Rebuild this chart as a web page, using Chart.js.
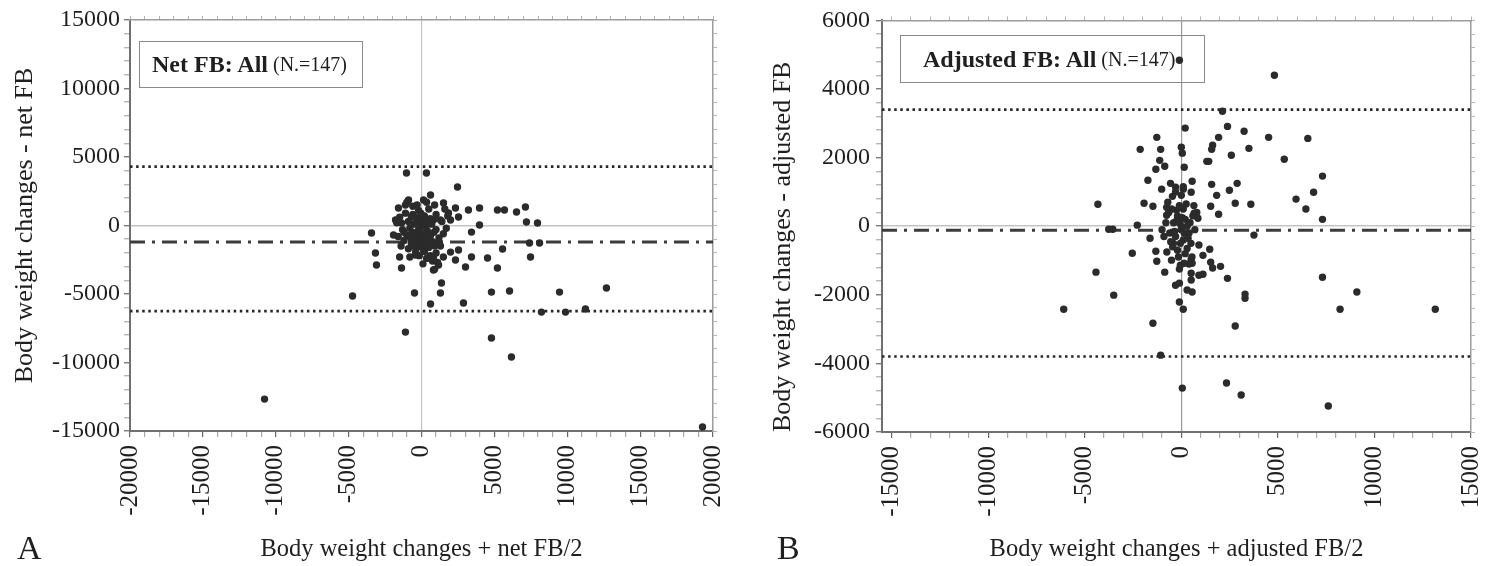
<!DOCTYPE html>
<html>
<head>
<meta charset="utf-8">
<title>Body weight changes vs FB</title>
<script src="https://cdn.jsdelivr.net/npm/chart.js@4.4.1/dist/chart.umd.min.js"></script>
<style>
  body { margin: 0; background: #fff; width: 1509px; height: 566px; position: relative; overflow: hidden;
         font-family: 'Liberation Serif', 'Times New Roman', serif; color: #1f1f1f; }
  canvas { position: absolute; top: 0; }
  #chartA { left: 0; }
  #chartB { left: 754px; }
  .key { position: absolute; box-sizing: border-box; border: 1px solid #8a8a8a; display: flex; align-items: center;
         white-space: nowrap; font-size: 20px; z-index: 2; }
  .key b { font-size: 24px; }
  .panel { position: absolute; font-size: 34px; line-height: 1; z-index: 2; }
</style>
</head>
<body>
<canvas id="chartA" width="754" height="566"></canvas>
<canvas id="chartB" width="755" height="566"></canvas>

<div class="key" style="left:139px; top:41px; width:224px; height:47px; padding-left:12px;"><b>Net FB: All</b>&nbsp;(N.=147)</div>
<div class="key" style="left:900px; top:35px; width:305px; height:48px; padding-left:22px;"><b>Adjusted FB: All</b>&nbsp;(N.=147)</div>
<div class="panel" style="left:17px; top:531px;">A</div>
<div class="panel" style="left:777px; top:531px;">B</div>

<script>
// A: net FB — mean of the two measures (x) against their difference (y)
const netX = [
  -1030, 340, 2470, 620, 140, -890, -1100, -1580, 1510, 2330,
  3220, 3980, 5210, 5690, 6520, 7130, 7200, 7960, 1850, 2540,
  1990, -1780, -1370, -690, -210, 340, 820, 3980, 3430, -3430,
  -1920, -3160, -3090, -1370, -410, 140, 820, 1170, 820, 1990,
  2540, 2330, 3020, 3430, 4530, 5210, 5560, 7410, 8100, 7480,
  1370, 1300, -480, 620, 2880, 4800, 6040, 9470, 12690, 8230,
  9880, 11250, 4800, -1100, 6170, -4730, -10770, 19280,
  -800, -600, -400, -200, 0, 200, 400, 600, 800, -1000,
  -1200, -700, -300, 100, 500, 900, 1200, -500, -100, 300,
  700, 1000, -900, -1300, -1500, -1100, -600, -200, 200, 600,
  1000, 1400, 1500, -1600, -400, 200, 600, 1000, 1300, -900,
  -1400, -50, 150, -300, 450, 850, -750, -350, 50, 350,
  750, 1100, -150, 500, -600, -1000, 900, 1600, 1700, -1700,
  -250, 250, 700, -550, 1200, -1200, -450, 400, -50, 1300,
  -800, 100, 900, 1500, -1500, -300, 350, 1800, -100
];
const netY = [
  3830, 3830, 2810, 2230, 1860, 1860, 1500, 1280, 1640, 1280,
  1130, 1280, 1130, 1130, 990, 1350, 260, 180, 910, 620,
  400, 400, 180, 620, 260, 260, 400, 40, -480, -550,
  -690, -2010, -2880, -3100, -2150, -1790, -2300, -2880, -3250, -1940,
  -1790, -2520, -3030, -2300, -2370, -3100, -1720, -1280, -1280, -2300,
  -4200, -4930, -4930, -5730, -5660, -4860, -4780, -4860, -4560, -6320,
  -6320, -6100, -8210, -7780, -9600, -5150, -12670, -14710,
  -200, -500, -900, -300, -700, -1000, -400, -800, -1200, -700,
  -1100, -1300, -1500, -1300, -1600, -1500, -900, 100, 500, -100,
  100, -300, 300, -300, 600, 900, 800, 1100, 700, 500,
  800, 300, -600, -800, -1900, -1900, -2200, -2000, -1500, -1700,
  -1500, -100, 200, 300, -1200, -500, -900, -600, -1600, -2400,
  -2600, -2700, -2200, 1200, 1400, 1700, 1500, 1200, -200, 200,
  -1100, -600, -1400, -1500, -1200, -500, 600, 300, 900, 400,
  -2300, -2800, -3200, -2300, -2300, 1500, 1700, 700, -400
];
const netLimits = [4300, -1200, -6250];   // upper LoA, mean bias, lower LoA
const netXLabels = [-20000, -15000, -10000, -5000, 0, 5000, 10000, 15000, 20000];
const netYLabels = [-15000, -10000, -5000, 0, 5000, 10000, 15000];

// B: adjusted FB
const adjX = [
  -100, 4820, 2130, 200, 2390, 3250, 4520, 6550, -1270, 1930,
  -2130, -1070, 0, 50, 1620, 1570, 3500, 2590, 5330, -1120,
  -860, -1320, 150, 1320, 1420, 7310, -1730, 560, 1570, 2890,
  -560, -1020, -300, 100, 510, 2490, 1830, -460, 6850, 5940,
  -4320, -1930, -1470, 1520, 2790, 3600, -760, -250, 6450, 1930,
  660, 860, -760, 7310, -2280, -3760, -3550, 3760, -1620, -2540,
  -1320, -1270, -4420, -860, -510, -410, -50, 150, 510, 560,
  910, 1120, 1470, 1520, 1620, 2030, 2390, 510, 910, 1120,
  510, -300, -100, 300, 560, -3500, 3300, 3300, -100, 100,
  -1470, 2790, -1070, 50, 2340, 3100, 7310, 9090, 8220, 13150,
  7610, -6090,
  -200, -400, 0, 200, -600, 100, -300, 300, -100, 400,
  -500, -800, 600, -200, 200, 0, -900, 500, -100, 100,
  -350, 350, -700, 700, -50, 50, -450, 250, -150, 450,
  -650, 0, 150, -250, 300, -550, 650, -1000, 800, -300,
  100, -750, 550, -100, 400
];
const adjY = [
  4840, 4400, 3350, 2860, 2910, 2770, 2590, 2560, 2590, 2590,
  2240, 2240, 2300, 2130, 2360, 2240, 2270, 2070, 1950, 1920,
  1750, 1660, 1720, 1890, 1890, 1460, 1340, 1310, 1220, 1250,
  1250, 1080, 1140, 1080, 990, 1050, 900, 870, 990, 790,
  640, 670, 580, 580, 670, 640, 550, 470, 500, 350,
  380, 230, 320, 200, 30, -90, -90, -260, -350, -790,
  -730, -1020, -1340, -1340, -990, -500, -1140, -1080, -960, -1080,
  -550, -850, -670, -1050, -1220, -1170, -1520, -1370, -1430, -1400,
  -1570, -1720, -1660, -1860, -1920, -2010, -1980, -2100, -2210, -2420,
  -2830, -2910, -3760, -4720, -4570, -4920, -1490, -1920, -2420, -2420,
  -5240, -2420,
  300, 100, -100, 200, -200, -400, -300, 0, 600, -200,
  500, 100, 300, -700, -800, 900, -300, -500, 100, 500,
  -150, -350, 700, -100, -500, 250, -600, 650, -900, 100,
  400, 0, -200, 150, -650, -450, 600, -100, 400, 1000,
  1150, -750, -900, -1250, -1100
];
const adjLimits = [3400, -120, -3800];
const adjXLabels = [-15000, -10000, -5000, 0, 5000, 10000, 15000];
const adjYLabels = [-6000, -4000, -2000, 0, 2000, 4000, 6000];

const ink = '#1f1f1f';
const serif = "'Liberation Serif', 'Times New Roman', serif";

function across(v, lo, hi) {
  return [{ x: lo, y: v }, { x: hi, y: v }];
}

// x ticks every 1000 from the first whole thousand inside the range
function thousands(s) {
  const ticks = [];
  for (let v = Math.ceil(s.min / 1000) * 1000; v <= s.max; v += 1000) ticks.push({ value: v });
  s.ticks = ticks;
}

function drawPanel(id, p) {
  const points = p.xs.map((x, i) => ({ x, y: p.ys[i] }));
  const xLo = p.xMin, xHi = p.xLabels[p.xLabels.length - 1];
  const yLo = p.yLabels[0], yHi = p.yLabels[p.yLabels.length - 1];

  const label = list => v => (list.includes(v) ? String(v) : '');
  const tickInk = list => c => (c.tick && list.includes(c.tick.value) ? '#666' : '#aaa');
  const zeroOnly = color => c => (c.tick && c.tick.value === 0 ? color : 'rgba(0,0,0,0)');

  const limitLine = (v, dash, width, color) => ({
    data: across(v, xLo, xHi), showLine: true, pointRadius: 0, pointHoverRadius: 0,
    borderColor: color, borderWidth: width, borderDash: dash, borderCapStyle: 'butt'
  });

  return new Chart(document.getElementById(id), {
    type: 'scatter',
    data: {
      datasets: [
        { data: points, pointRadius: 3.7, pointHoverRadius: 3.7, backgroundColor: '#2b2b2b', borderWidth: 0 },
        limitLine(p.limits[0], [2.5, 3.6], 2.6, '#262626'),
        limitLine(p.limits[1], [15, 7, 3, 7], 3, '#3c3c3c'),
        limitLine(p.limits[2], [2.5, 3.6], 2.6, '#262626')
      ]
    },
    options: {
      responsive: false,
      animation: false,
      events: [],
      layout: { padding: 0 },
      plugins: { legend: { display: false }, tooltip: { enabled: false } },
      scales: {
        x: {
          type: 'linear', position: 'bottom', min: xLo, max: xHi, bounds: 'data',
          afterBuildTicks: thousands,
          afterFit: s => { s.height = p.bottom; },
          ticks: {
            autoSkip: false, minRotation: 90, maxRotation: 90,
            padding: 8, color: ink, font: { family: serif, size: 25 }, callback: label(p.xLabels)
          },
          grid: { color: zeroOnly(p.vZero), lineWidth: 1.2, tickLength: 6, tickColor: tickInk(p.xLabels), tickWidth: 1.2 },
          border: { color: '#707070', width: 2 },
          title: { display: true, text: p.xTitle, color: ink, font: { family: serif, size: 24.5 }, padding: { top: 0, bottom: 2 } }
        },
        y: {
          type: 'linear', position: 'left', min: yLo, max: yHi,
          afterFit: s => { s.width = p.left; },
          ticks: {
            stepSize: p.yStep, autoSkip: false, padding: p.yPad, color: ink,
            font: { family: serif, size: 24 }, callback: label(p.yLabels)
          },
          grid: { color: zeroOnly('#c4c4c4'), lineWidth: 1.5, tickLength: 6, tickColor: tickInk(p.yLabels), tickWidth: 1.2 },
          border: { color: '#707070', width: 2 },
          title: { display: true, text: p.yTitle, align: p.yAlign, color: ink, font: { family: serif, size: 26 }, padding: { top: p.yTitlePad, bottom: 0 } }
        },
        x2: {
          type: 'linear', position: 'top', min: xLo, max: xHi, bounds: 'data',
          afterBuildTicks: thousands,
          afterFit: s => { s.height = p.top; },
          ticks: { display: false },
          grid: { drawOnChartArea: false, tickLength: 4, tickColor: '#b5b5b5' },
          border: { color: '#9c9c9c', width: 1.5 }
        },
        y2: {
          type: 'linear', position: 'right', min: yLo, max: yHi,
          afterFit: s => { s.width = p.right; },
          ticks: { display: false, stepSize: p.yStep },
          grid: { drawOnChartArea: false, tickLength: 4, tickColor: '#b5b5b5' },
          border: { color: '#9c9c9c', width: 1.5 }
        }
      }
    }
  });
}

drawPanel('chartA', {
  xs: netX, ys: netY, limits: netLimits,
  xLabels: netXLabels, yLabels: netYLabels, xMin: -20000, yStep: 1000,
  xTitle: 'Body weight changes + net FB/2', yTitle: 'Body weight changes - net FB',
  yAlign: 'center', yTitlePad: 10, yPad: 4, vZero: '#c4c4c4',
  left: 130, right: 41, top: 20, bottom: 135
});

drawPanel('chartB', {
  xs: adjX, ys: adjY, limits: adjLimits,
  xLabels: adjXLabels, yLabels: adjYLabels, xMin: -15500, yStep: 400,
  xTitle: 'Body weight changes + adjusted FB/2', yTitle: 'Body weight changes - adjusted FB',
  yAlign: 'start', yTitlePad: 14, yPad: 6, vZero: '#9a9a9a',
  left: 128, right: 26, top: 20, bottom: 134
});
</script>
</body>
</html>
